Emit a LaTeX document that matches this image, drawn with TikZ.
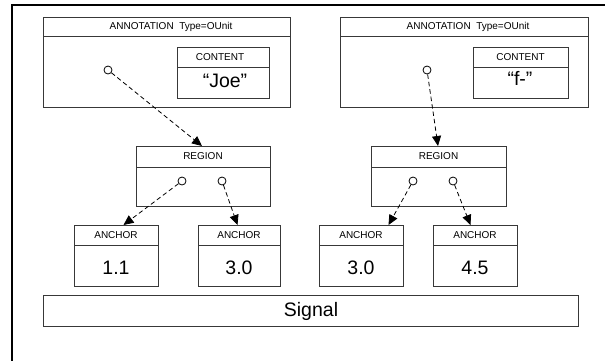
\documentclass[tikz,border=0pt]{standalone}
\usepackage{fontspec}
\setmainfont{Liberation Sans}
\usetikzlibrary{arrows.meta}
\definecolor{boxline}{HTML}{383838}
\tikzset{
  box/.style={draw=boxline, line width=1pt, rectangle, anchor=north west, inner sep=0pt},
  hdr/.style={font=\fontsize{10}{12}\selectfont, inner sep=0pt},
  big/.style={font=\fontsize{19.5}{23}\selectfont, inner sep=0pt},
  lolli/.style={draw=black, circle, line width=0.8pt, minimum size=8pt, inner sep=0pt},
  conn/.style={draw=black, line width=0.8pt, dash pattern=on 4.5pt off 3pt, -{Triangle[length=10pt,width=9pt]}},
}
\begin{document}
\begin{tikzpicture}[x=1pt, y=-1pt]
\useasboundingbox (0,0) rectangle (605,360);
% outer frame (only top and left edges are visible)
\draw[line width=2pt, black] (12,362) -- (12,5) -- (607,5);

% annotation boxes
\node[box, minimum width=247pt, minimum height=90pt] (ann1) at (43,17) {};
\node[box, minimum width=248pt, minimum height=90pt] (ann2) at (340,17) {};
\draw[boxline, line width=1pt] ([yshift=-19pt]ann1.north west) -- ([yshift=-19pt]ann1.north east);
\draw[boxline, line width=1pt] ([yshift=-19pt]ann2.north west) -- ([yshift=-19pt]ann2.north east);
\node[hdr] (ann1t) at (171,26.5) {ANNOTATION \ Type=OUnit};
\node[hdr] (ann2t) at (468,26.5) {ANNOTATION \ Type=OUnit};

% content boxes
\node[box, minimum width=92pt, minimum height=51pt] (cont1) at (177,47) {};
\node[box, minimum width=95pt, minimum height=51pt] (cont2) at (473,47) {};
\draw[boxline, line width=1pt] ([yshift=-20pt]cont1.north west) -- ([yshift=-20pt]cont1.north east);
\draw[boxline, line width=1pt] ([yshift=-20pt]cont2.north west) -- ([yshift=-20pt]cont2.north east);
\node[hdr] (cont1t) at (220,57) {CONTENT};
\node[hdr] (cont2t) at (520.5,57) {CONTENT};
\node[big] (joe) at (225,81) {“Joe”};
\node[big] (fdash) at (520,78) {“f-”};

% region boxes
\node[box, minimum width=134pt, minimum height=60pt] (reg1) at (136,146) {};
\node[box, minimum width=135pt, minimum height=60pt] (reg2) at (371,146) {};
\draw[boxline, line width=1pt] ([yshift=-21pt]reg1.north west) -- ([yshift=-21pt]reg1.north east);
\draw[boxline, line width=1pt] ([yshift=-21pt]reg2.north west) -- ([yshift=-21pt]reg2.north east);
\node[hdr] (reg1t) at (203,156.5) {REGION};
\node[hdr] (reg2t) at (438.5,156.5) {REGION};

% anchor boxes
\node[box, minimum width=84pt, minimum height=61pt] (anc1) at (74,225) {};
\node[box, minimum width=82pt, minimum height=61pt] (anc2) at (198,225) {};
\node[box, minimum width=84pt, minimum height=61pt] (anc3) at (319,225) {};
\node[box, minimum width=84pt, minimum height=61pt] (anc4) at (433,225) {};
\foreach \a in {anc1,anc2,anc3,anc4}{
  \draw[boxline, line width=1pt] ([yshift=-20pt]\a.north west) -- ([yshift=-20pt]\a.north east);
}
\node[hdr] (anc1t) at (116,235.5) {ANCHOR};
\node[hdr] (anc2t) at (239,235.5) {ANCHOR};
\node[hdr] (anc3t) at (361,235.5) {ANCHOR};
\node[hdr] (anc4t) at (475,235.5) {ANCHOR};
\node[big] (v1) at (116,268) {1.1};
\node[big] (v2) at (239,268) {3.0};
\node[big] (v3) at (361,268) {3.0};
\node[big] (v4) at (475,268) {4.5};

% signal
\node[box, minimum width=535pt, minimum height=31pt] (sig) at (43,295) {};
\node[big] (sigt) at (311,311) {Signal};

% lollipop circles
\node[lolli] (c1) at (108,70) {};
\node[lolli] (c2) at (427,70) {};
\node[lolli] (r1a) at (182,181) {};
\node[lolli] (r1b) at (222,181) {};
\node[lolli] (r2a) at (413,181) {};
\node[lolli] (r2b) at (453,181) {};

% connectors
\draw[conn] (c1) -- ([xshift=66pt]reg1.north west);
\draw[conn] (c2) -- ([xshift=67pt]reg2.north west);
\draw[conn] (r1a) -- ([xshift=7pt]anc1.north);
\draw[conn] (r1b) -- ([xshift=-2pt]anc2.north);
\draw[conn] (r2a) -- ([xshift=27pt]anc3.north);
\draw[conn] (r2b) -- ([xshift=-5pt]anc4.north);
\end{tikzpicture}
\end{document}
